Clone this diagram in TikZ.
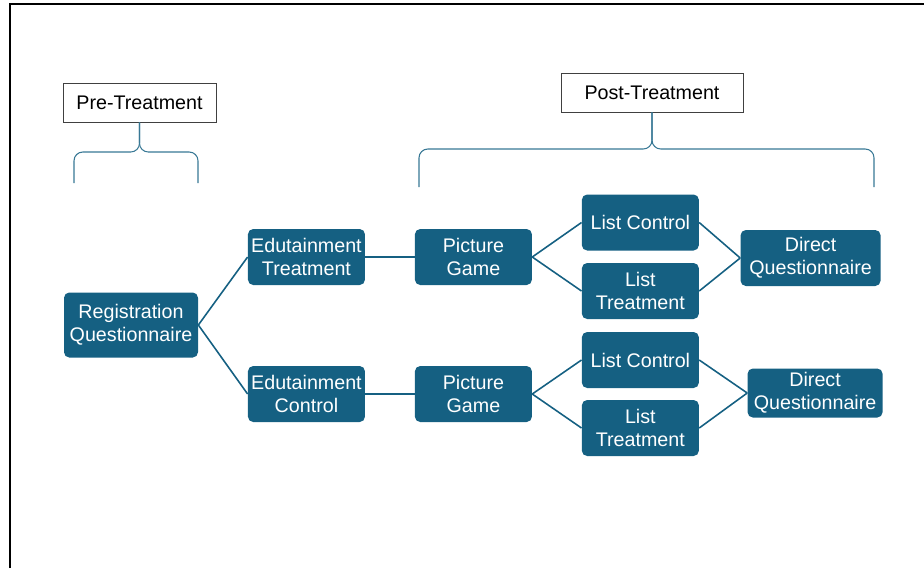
\documentclass[tikz,border=0pt]{standalone}
\usepackage{fontspec}
\setmainfont{Liberation Sans}
\usetikzlibrary{positioning}
\definecolor{boxblue}{HTML}{156082}
\tikzstyle{phase} = [rectangle, draw=black!75, fill=white, minimum width=3cm, minimum height=0.78cm, text centered]
\tikzstyle{stage} = [rectangle, rounded corners=3pt, minimum width=2.34cm, minimum height=1.12cm, inner sep=1pt, text=white, text centered, fill=boxblue]
\tikzstyle{link} = [draw=boxblue, line width=0.9pt]
\tikzstyle{brace} = [draw=boxblue!85, line width=0.6pt, rounded corners=5pt]

\begin{document}
\begin{tikzpicture}[align=center, node distance=0.985cm, font=\fontsize{11.2}{13}\selectfont]
  \useasboundingbox (0,0) rectangle (18.48,-11.36);
  \draw [line width=1pt] (0.2,-11.36) |- (18.48,-0.08);
  %Phases
  \node (pre) [phase, minimum width=3.06cm] at (2.79,-2.05) {Pre-Treatment};
  \node (post) [phase, minimum width=3.64cm] at (13.04,-1.85) {Post-Treatment};
  \coordinate (preL) at (1.48,-3.66);
  \coordinate (preR) at (3.96,-3.66);
  \coordinate (preM) at (2.79,-3.04);
  \draw [brace] (preL) |- (preM) -- (pre.south);
  \draw [brace] (preR) |- (preM) -- (pre.south);
  \coordinate (postL) at (8.38,-3.74);
  \coordinate (postR) at (17.48,-3.74);
  \coordinate (postM) at (13.04,-2.98);
  \draw [brace] (postL) |- (postM) -- (post.south);
  \draw [brace] (postR) |- (postM) -- (post.south);
  %Treatment arm
  \node (reg) [stage, minimum width=2.68cm, minimum height=1.3cm] at (2.62,-6.5) {Registration\\Questionnaire};
  \node (edutreat) [stage, right = of reg, yshift = 1.36cm] {Edutainment\\Treatment};
  \draw [link] (reg.east) -- (edutreat.west);
  \node (pictreat) [stage, right = of edutreat] {Picture\\Game};
  \draw [link] (edutreat) -- (pictreat);
  \node (lc1) [stage, right = of pictreat, yshift = 0.69cm] {List Control};
  \node (lt1) [stage, right = of pictreat, yshift = -0.68cm] {List\\Treatment};
  \draw [link] (pictreat.east) -- (lc1.west);
  \draw [link] (pictreat.east) -- (lt1.west);
  \node (dq1) [stage, minimum width=2.8cm, right = 0.82cm of lc1, yshift = -0.71cm] {Direct\\Questionnaire};
  \draw [link] (lc1.east) -- (dq1.west);
  \draw [link] (lt1.east) -- (dq1.west);
  %Control arm
  \node (eductrl) [stage, right = of reg, yshift = -1.38cm] {Edutainment\\Control};
  \draw [link] (reg.east) -- (eductrl.west);
  \node (picctrl) [stage, right = of eductrl] {Picture\\Game};
  \draw [link] (eductrl) -- (picctrl);
  \node (lc2) [stage, right = of picctrl, yshift = 0.68cm] {List Control};
  \node (lt2) [stage, right = of picctrl, yshift = -0.68cm] {List\\Treatment};
  \draw [link] (picctrl.east) -- (lc2.west);
  \draw [link] (picctrl.east) -- (lt2.west);
  \node (dq2) [stage, minimum width=2.7cm, minimum height=0.98cm, right = 0.96cm of lc2, yshift = -0.66cm] {Direct\\Questionnaire};
  \draw [link] (lc2.east) -- (dq2.west);
  \draw [link] (lt2.east) -- (dq2.west);
\end{tikzpicture}
\end{document}
